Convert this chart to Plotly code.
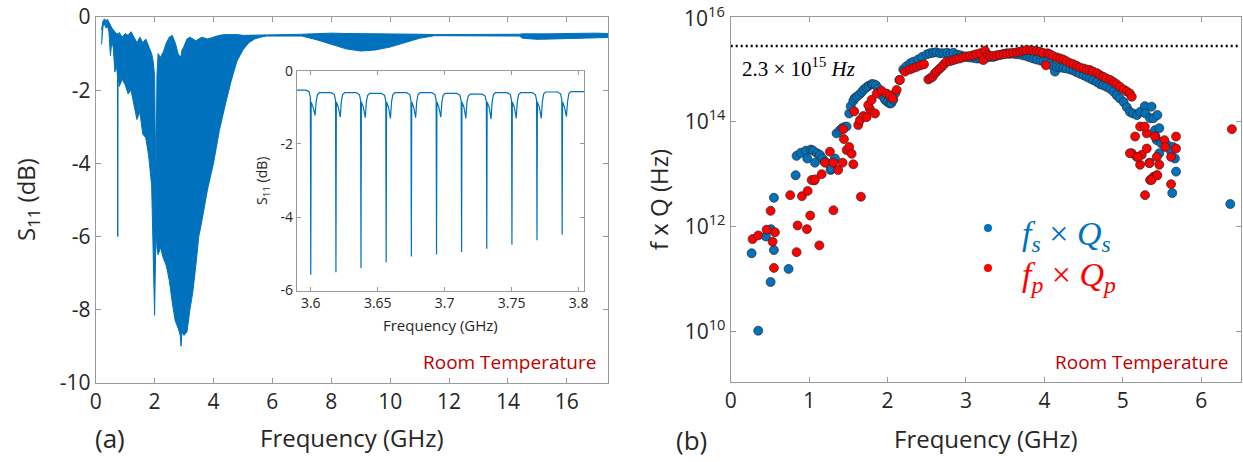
import plotly.graph_objects as go

W, H = 1243, 462
BLUE = "#0072BD"
RED = "#FF0000"
DARKRED = "#C00000"
TXT = "#262626"
FRAME = "#9a9a9a"
SANS = "Open Sans"
SERIF = "Liberation Serif"

# ---------------- Panel (a): S11 envelope ----------------
s11_freq_ghz = [0.20, 0.25, 0.30, 0.35, 0.40, 0.45, 0.50, 0.55, 0.60, 0.65, 0.70, 0.74, 0.75, 0.76,
                0.80, 0.90, 1.00, 1.10, 1.20, 1.30, 1.40, 1.50, 1.60, 1.70, 1.80, 1.90, 1.95, 2.00,
                2.02, 2.05, 2.08, 2.12, 2.20, 2.30, 2.40, 2.50, 2.60, 2.70, 2.80, 2.87, 2.90, 2.93,
                3.00, 3.10, 3.20, 3.30, 3.40, 3.50, 3.60, 3.80, 4.00, 4.20, 4.40, 4.60, 4.80, 5.00,
                5.20, 5.40, 5.60, 5.80, 6.00, 6.50, 7.00, 7.50, 8.00, 8.50, 9.00, 9.50, 10.00, 10.50,
                11.00, 11.50, 12.00, 12.50, 13.00, 13.50, 14.00, 14.40, 14.50, 15.00, 15.50, 16.00,
                16.50, 17.00, 17.40]
s11_upper_db = [-0.35, -0.10, -0.05, -0.10, -0.06, -0.15, -0.22, -0.30, -0.35, -0.40, -0.45, -0.45, -0.50, -0.50,
                -0.42, -0.55, -0.45, -0.50, -0.40, -0.55, -0.70, -0.55, -0.70, -0.60, -0.80, -1.00, -1.20, -1.60,
                -3.00, -4.20, -1.60, -1.00, -1.10, -0.95, -0.70, -0.55, -0.50, -0.70, -1.00, -1.10, -1.05, -0.90,
                -0.80, -0.60, -0.55, -0.60, -0.65, -0.60, -0.55, -0.60, -0.55, -0.50, -0.48, -0.47, -0.48, -0.50,
                -0.50, -0.50, -0.48, -0.49, -0.49, -0.48, -0.47, -0.45, -0.44, -0.45, -0.45, -0.45, -0.46, -0.46,
                -0.47, -0.48, -0.48, -0.49, -0.48, -0.47, -0.48, -0.47, -0.46, -0.47, -0.46, -0.45,
                -0.44, -0.44, -0.45]
s11_lower_db = [-0.75, -0.25, -0.20, -0.30, -0.25, -0.40, -1.05, -0.65, -0.85, -1.50, -1.30, -1.60, -6.00, -1.60,
                -1.90, -1.70, -1.85, -2.10, -2.00, -2.40, -2.80, -2.60, -3.20, -3.30, -3.80, -4.60, -6.50, -8.15,
                -7.20, -5.80, -6.30, -6.50, -6.30, -6.60, -6.80, -7.20, -7.80, -8.30, -8.50, -8.70, -9.00, -8.60,
                -8.70, -8.60, -8.00, -7.50, -6.80, -6.00, -5.60, -4.70, -4.00, -3.10, -2.40, -1.75, -1.20, -0.90,
                -0.70, -0.60, -0.55, -0.52, -0.52, -0.51, -0.52, -0.62, -0.75, -0.87, -0.93, -0.90, -0.82, -0.70,
                -0.58, -0.51, -0.51, -0.52, -0.51, -0.50, -0.51, -0.52, -0.58, -0.61, -0.60, -0.59,
                -0.58, -0.57, -0.56]

# ---------------- Inset: resonances 3.59-3.80 GHz ----------------
inset_dip_freq = [3.6000, 3.6188, 3.6375, 3.6563, 3.6751, 3.6939, 3.7126, 3.7314, 3.7502, 3.7689, 3.7877]
inset_dip_depth = [-5.57, -5.50, -5.39, -5.23, -5.07, -5.02, -4.95, -4.86, -4.75, -4.63, -4.47]
inset_shoulder_depth = [-1.22, -1.27, -1.28, -1.30, -1.28, -1.27, -1.30, -1.32, -1.30, -1.30, -1.25]
inset_baseline = [-0.53, -0.60, -0.60, -0.62, -0.60, -0.60, -0.62, -0.64, -0.60, -0.60, -0.58]
inset_end = (3.804, -0.57)

# ---------------- Panel (b): f x Q (log10 of Hz) ----------------
fs_freq_ghz = [0.267, 0.351, 0.449, 0.513, 0.551, 0.509, 0.551, 0.738, 0.828, 0.840, 0.895, 0.959, 1.023,
               0.976, 1.050, 1.074, 1.100, 1.138, 1.170, 1.202, 1.250, 1.274, 1.329, 1.287, 1.350, 1.393,
               1.420, 1.450, 1.478, 1.511, 1.530, 1.563, 1.580, 1.606, 1.640, 1.670, 1.700, 1.733, 1.760,
               1.797, 1.820, 1.852, 1.880, 1.903, 1.930, 1.967, 2.000, 2.030, 2.050, 2.073, 2.100, 2.150,
               2.200, 2.240, 2.290, 2.330, 2.390, 2.440, 2.500, 2.540, 2.580, 2.620, 2.670, 2.710, 2.760,
               2.800, 2.840, 2.890, 2.930, 2.970, 3.010, 3.050, 3.100, 3.140, 3.180, 3.220, 3.270, 3.310,
               3.350, 3.390, 3.440, 3.480, 3.520, 3.560, 3.610, 3.650, 3.690, 3.730, 3.780, 3.820, 3.860,
               3.900, 3.950, 3.990, 4.030, 4.070, 4.110, 4.135, 4.160, 4.200, 4.240, 4.280, 4.330, 4.370,
               4.410, 4.450, 4.500, 4.540, 4.580, 4.620, 4.670, 4.710, 4.750, 4.790, 4.840, 4.880, 4.920,
               4.960, 5.010, 5.050, 5.090, 5.130, 5.180, 5.220, 5.280, 5.290, 5.347, 5.366, 5.390, 5.410,
               5.432, 5.440, 5.465, 5.416, 5.490, 5.565, 5.640, 5.465, 5.615, 5.664, 5.678, 5.630, 6.370]
fs_Qs_log10 = [11.49, 10.01, 11.81, 11.95, 11.55, 10.94, 12.55, 11.19, 12.98, 13.35, 13.41, 13.45, 13.47,
               13.30, 13.45, 13.22, 13.40, 13.37, 13.30, 13.24, 13.20, 13.08, 13.30, 13.11, 13.78, 13.84,
               13.88, 13.90, 13.91, 14.16, 14.30, 14.40, 14.45, 14.48, 14.52, 14.57, 14.62, 14.66, 14.69,
               14.72, 14.72, 14.70, 14.64, 14.57, 14.50, 14.42, 14.38, 14.35, 14.36, 14.42, 14.55, 14.80,
               15.00, 15.06, 15.12, 15.15, 15.19, 15.24, 15.29, 15.31, 15.32, 15.33, 15.31, 15.31, 15.32,
               15.30, 15.32, 15.28, 15.27, 15.25, 15.24, 15.23, 15.22, 15.21, 15.21, 15.22, 15.23, 15.24,
               15.24, 15.26, 15.28, 15.30, 15.31, 15.30, 15.30, 15.29, 15.29, 15.27, 15.25, 15.23, 15.21,
               15.19, 15.17, 15.16, 15.15, 15.12, 15.06, 14.96, 15.05, 15.04, 15.03, 15.02, 15.00, 14.98,
               14.95, 14.92, 14.89, 14.86, 14.83, 14.80, 14.76, 14.72, 14.70, 14.67, 14.63, 14.58, 14.51,
               14.45, 14.38, 14.28, 14.19, 14.16, 14.13, 14.19, 14.30, 14.16, 14.07, 14.29, 14.07, 13.84,
               13.65, 14.13, 13.88, 13.72, 13.59, 13.56, 13.52, 13.40, 13.43, 13.30, 13.05, 12.64, 12.43]

fp_freq_ghz = [0.279, 0.351, 0.458, 0.509, 0.534, 0.564, 0.551, 0.759, 0.853, 0.840, 0.908, 0.972, 0.981,
               1.014, 1.065, 1.130, 1.310, 1.660, 1.032, 1.074, 1.160, 1.202, 1.265, 1.370, 1.307, 1.427,
               1.478, 1.511, 1.542, 1.563, 1.435, 1.444, 1.575, 1.626, 1.648, 1.690, 1.733, 1.776, 1.840,
               1.754, 1.797, 1.861, 1.925, 1.989, 2.030, 2.065, 2.116, 2.158, 2.222, 2.286, 2.330, 2.371,
               2.420, 2.465, 2.520, 2.550, 2.575, 2.600, 2.626, 2.660, 2.690, 2.720, 2.754, 2.800, 2.840,
               2.880, 2.920, 2.960, 3.000, 3.050, 3.090, 3.130, 3.180, 3.221, 3.242, 3.280, 3.310, 3.350,
               3.390, 3.430, 3.480, 3.520, 3.560, 3.600, 3.650, 3.690, 3.730, 3.770, 3.820, 3.860, 3.900,
               3.940, 3.980, 4.020, 4.040, 4.070, 4.110, 4.160, 4.200, 4.240, 4.280, 4.330, 4.370, 4.410,
               4.450, 4.500, 4.540, 4.580, 4.620, 4.670, 4.710, 4.750, 4.790, 4.840, 4.880, 4.920, 4.960,
               5.010, 5.050, 5.090, 5.114, 5.156, 5.220, 5.305, 5.410, 5.114, 5.177, 5.241, 5.220, 5.305,
               5.339, 5.432, 5.390, 5.347, 5.432, 5.283, 5.280, 5.190, 5.090, 5.340, 5.465, 5.530, 5.540,
               5.615, 5.678, 5.678, 5.366, 5.440, 5.615, 6.390]
fp_Qp_log10 = [11.76, 11.83, 11.94, 12.30, 11.71, 11.89, 11.21, 12.60, 12.02, 11.51, 12.58, 11.95, 12.68,
               12.21, 12.88, 11.64, 12.31, 12.57, 12.89, 12.90, 13.00, 13.22, 13.43, 13.08, 13.22, 13.22,
               13.46, 13.52, 13.39, 13.19, 13.86, 13.67, 14.20, 13.94, 14.03, 14.11, 14.09, 14.24, 14.16,
               14.32, 14.42, 14.54, 14.59, 14.54, 14.50, 14.45, 14.61, 14.80, 14.96, 15.00, 15.03, 15.05,
               15.08, 15.10, 14.81, 14.84, 14.86, 14.92, 14.96, 15.01, 15.05, 15.10, 15.15, 15.16, 15.18,
               15.20, 15.21, 15.23, 15.25, 15.26, 15.27, 15.29, 15.31, 15.18, 15.36, 15.28, 15.26, 15.26,
               15.27, 15.28, 15.29, 15.30, 15.31, 15.32, 15.33, 15.34, 15.36, 15.37, 15.37, 15.36, 15.35,
               15.34, 15.32, 15.08, 15.31, 15.29, 15.26, 15.23, 15.21, 15.19, 15.16, 15.12, 15.10, 15.07,
               15.04, 15.02, 15.00, 14.99, 14.96, 14.93, 14.89, 14.86, 14.83, 14.80, 14.76, 14.72, 14.67,
               14.62, 14.58, 14.54, 14.48, 13.72, 13.91, 13.78, 13.72, 13.40, 13.33, 13.37, 13.18, 13.49,
               13.22, 13.33, 12.95, 12.89, 12.98, 12.60, 13.91, 13.33, 13.40, 13.21, 13.18, 13.65, 13.52,
               13.33, 13.49, 13.72, 12.89, 12.98, 12.81, 13.86]

limit_fq_hz = 2.8e15          # dotted reference line as drawn
limit_label = "2.3 × 10<sup>15</sup> <i>Hz</i>"

a_xticks = [0, 2, 4, 6, 8, 10, 12, 14, 16]
a_yticks = [0, -2, -4, -6, -8, -10]
inset_xticks = [3.6, 3.65, 3.7, 3.75, 3.8]
inset_yticks = [0, -2, -4, -6]
b_xticks = [0, 1, 2, 3, 4, 5, 6]
b_yticks = [1e10, 1e12, 1e14, 1e16]
b_yticktext = ["10<sup>10</sup>", "10<sup>12</sup>", "10<sup>14</sup>", "10<sup>16</sup>"]


def px(xp):
    return xp / W


def py(yp):
    return 1 - yp / H


fig = go.Figure()

# panel (a) envelope: lower edge then upper edge filled to it
fig.add_trace(go.Scatter(x=s11_freq_ghz, y=s11_lower_db, mode="lines",
                         line=dict(color=BLUE, width=1), xaxis="x", yaxis="y",
                         showlegend=False, hoverinfo="skip"))
fig.add_trace(go.Scatter(x=s11_freq_ghz, y=s11_upper_db, mode="lines", fill="tonexty",
                         fillcolor=BLUE, line=dict(color=BLUE, width=1), xaxis="x", yaxis="y",
                         showlegend=False, hoverinfo="skip"))

# inset line, built from the read resonance positions/depths
ix, iy = [3.5895], [inset_baseline[0]]
n = len(inset_dip_freq)
for k in range(n):
    f0 = inset_dip_freq[k]
    base = inset_baseline[k]
    nxt = inset_baseline[k + 1] if k + 1 < n else inset_end[1]
    ix += [f0 - 0.0035, f0 - 0.0012, f0 - 0.0003, f0, f0 + 0.0003, f0 + 0.0018,
           f0 + 0.0032, f0 + 0.0040, f0 + 0.0050, f0 + 0.0065]
    iy += [base, base - 0.05, base - 0.2, inset_dip_depth[k], -0.85, -1.0,
           inset_shoulder_depth[k], -0.85, nxt - 0.05, nxt]
ix.append(inset_end[0])
iy.append(inset_end[1])
fig.add_trace(go.Scatter(x=ix, y=iy, mode="lines", line=dict(color=BLUE, width=1.2),
                         xaxis="x2", yaxis="y2", showlegend=False, hoverinfo="skip"))

# panel (b)
fig.add_trace(go.Scatter(x=[0, 6.5], y=[limit_fq_hz, limit_fq_hz], mode="lines",
                         line=dict(color="black", width=2.5, dash="2px,3px"),
                         xaxis="x3", yaxis="y3", showlegend=False, hoverinfo="skip"))
mk = dict(size=9, line=dict(color="#2a2a2a", width=0.7))
fig.add_trace(go.Scatter(x=fs_freq_ghz, y=[10 ** v for v in fs_Qs_log10], mode="markers",
                         marker=dict(color=BLUE, **mk), xaxis="x3", yaxis="y3", showlegend=False))
fig.add_trace(go.Scatter(x=fp_freq_ghz, y=[10 ** v for v in fp_Qp_log10], mode="markers",
                         marker=dict(color=RED, **mk), xaxis="x3", yaxis="y3", showlegend=False))

axis_common = dict(showline=True, linecolor=FRAME, linewidth=1, mirror="ticks", ticks="inside",
                   ticklen=5, tickcolor=FRAME, showgrid=False, zeroline=False, automargin=False,
                   tickfont=dict(family=SANS, size=21, color=TXT))
inset_common = dict(axis_common, tickfont=dict(family=SANS, size=14, color=TXT), ticklen=4)

fig.update_layout(
    width=W, height=H, margin=dict(l=0, r=0, t=0, b=0, autoexpand=False), autosize=False,
    paper_bgcolor="white", plot_bgcolor="rgba(0,0,0,0)",
    xaxis=dict(axis_common, domain=[px(95.7), px(608)], range=[0, 17.4],
               tickvals=a_xticks, ticktext=[str(v) for v in a_xticks], anchor="y"),
    yaxis=dict(axis_common, domain=[py(383), py(17)], range=[-10.001, 0.001],
               tickvals=a_yticks, ticktext=[str(v) for v in a_yticks], anchor="x"),
    xaxis2=dict(inset_common, domain=[px(296.7), px(584)], range=[3.5895, 3.804],
                tickvals=inset_xticks, ticktext=[f"{v:g}" for v in inset_xticks], anchor="y2"),
    yaxis2=dict(inset_common, domain=[py(290.5), py(70.7)], range=[-6.001, 0.001],
                tickvals=inset_yticks, ticktext=[str(v) for v in inset_yticks], anchor="x2"),
    xaxis3=dict(axis_common, domain=[px(730.7), px(1240.5)], range=[0, 6.5],
                tickvals=b_xticks, ticktext=[str(v) for v in b_xticks], anchor="y3"),
    yaxis3=dict(axis_common, domain=[py(382), py(17)], type="log", range=[9.03, 16.003],
                tickvals=b_yticks, ticktext=b_yticktext, anchor="x3"),
)

ann = []


def text(xp, yp, t, size, color=TXT, family=SANS, xanchor="center", angle=0):
    ann.append(dict(x=px(xp), y=py(yp), xref="paper", yref="paper", text=t, showarrow=False,
                    xanchor=xanchor, yanchor="middle", textangle=angle,
                    font=dict(family=family, size=size, color=color)))


text(27, 200, "S<sub>11</sub> (dB)", 24, angle=-90)
text(352, 437, "Frequency (GHz)", 24)
text(110, 438, "(a)", 26)
text(598, 362, "Room Temperature", 19, color=DARKRED, xanchor="right")
text(262, 181, "S<sub>11</sub> (dB)", 14, angle=-90)
text(440, 325, "Frequency (GHz)", 15)

text(658, 200, "f x Q (Hz)", 24, angle=-90)
text(986, 438, "Frequency (GHz)", 24)
text(691, 440, "(b)", 26)
text(1230, 362, "Room Temperature", 19, color=DARKRED, xanchor="right")
text(740, 67, limit_label, 21, color="black", family=SERIF, xanchor="left")
text(1020, 236, "<i>f</i><sub><i>s</i></sub> × <i>Q</i><sub><i>s</i></sub>", 34, color=BLUE,
     family=SERIF, xanchor="left")
text(1020, 277, "<i>f</i><sub><i>p</i></sub> × <i>Q</i><sub><i>p</i></sub>", 34, color=RED,
     family=SERIF, xanchor="left")
# top log tick label, placed at its tick (plotly drops it at the frame edge)
text(727, 16, b_yticktext[-1], 21, xanchor="right")
fig.update_layout(annotations=ann)

shapes = []
for cy, col in [(228, BLUE), (268, RED)]:
    shapes.append(dict(type="circle", xref="paper", yref="paper",
                       x0=px(984), x1=px(992), y0=py(cy + 4), y1=py(cy - 4),
                       fillcolor=col, line=dict(width=0)))
fig.update_layout(shapes=shapes)

fig.write_html("out.html", config={"displayModeBar": False, "staticPlot": True},
               post_script="document.body.style.margin='0';document.body.style.overflow='hidden';")
